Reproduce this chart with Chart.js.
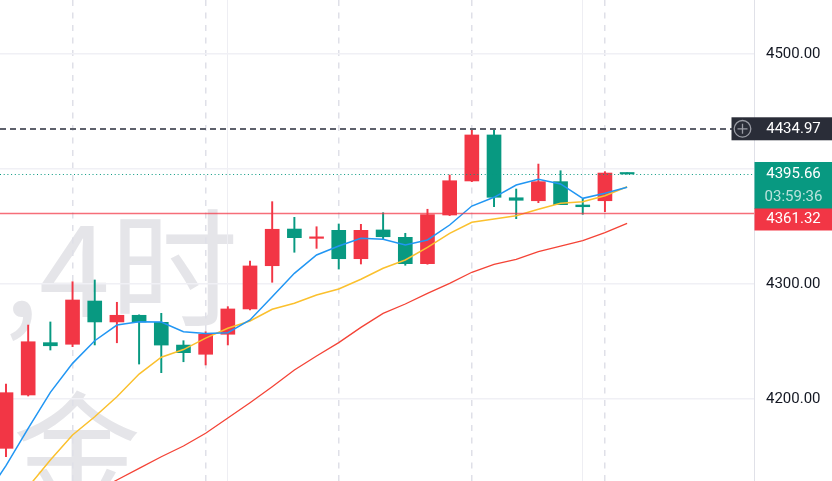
<!DOCTYPE html>
<html><head><meta charset="utf-8">
<script src="https://cdn.jsdelivr.net/npm/chart.js@4.4.1/dist/chart.umd.min.js"></script>
<style>html,body{margin:0;padding:0;background:#fff;overflow:hidden}#wrap{position:relative;width:832px;height:481px}</style>
</head><body><div id="wrap"><canvas id="c"></canvas></div>
<script>
// ---- data ----
const barIndex = [0,1,2,3,4,5,6,7,8,9,10,11,12,13,14,15,16,17,18,19,20,21,22,23,24,25,26,27,28];
const openP  = [4157.1,4203.5,4249.0,4247.6,4285.2,4267.0,4272.8,4266.7,4246.9,4238.9,4256.3,4278.3,4315.9,4347.8,4339.7,4346.7,4322.0,4347.0,4340.6,4317.7,4360.0,4389.6,4429.6,4375.0,4372.4,4389.0,4368.7,4372.4,4396.5];
const highP  = [4213.0,4264.3,4267.0,4302.0,4303.5,4284.1,4273.2,4274.5,4250.7,4258.5,4280.3,4320.0,4371.6,4358.0,4349.8,4352.2,4351.9,4362.0,4344.1,4365.0,4394.8,4433.9,4434.97,4382.6,4404.3,4398.5,4373.7,4397.7,4396.7];
const lowP   = [4149.8,4202.6,4242.6,4245.5,4247.0,4248.9,4230.4,4222.9,4232.4,4229.6,4247.0,4277.4,4301.5,4327.6,4331.0,4313.0,4317.4,4338.9,4316.3,4317.2,4359.5,4389.0,4367.2,4356.8,4370.7,4369.0,4360.6,4362.9,4395.66];
const closeP = [4205.5,4249.8,4246.3,4286.1,4267.0,4272.8,4267.0,4246.9,4240.3,4256.3,4278.3,4315.7,4347.6,4340.3,4340.6,4322.0,4346.7,4341.1,4317.7,4360.3,4389.8,4429.6,4375.4,4372.8,4389.0,4369.0,4367.2,4396.5,4395.66];
const maIndex = [-1,0,1,2,3,4,5,6,7,8,9,10,11,12,13,14,15,16,17,18,19,20,21,22,23,24,25,26,27,28];
const maFast = [4113.0,4142.0,4174.5,4205.8,4231.0,4250.7,4264.3,4267.2,4267.0,4258.5,4257.0,4257.7,4268.7,4289.0,4309.3,4325.2,4333.0,4339.7,4338.9,4333.9,4338.3,4351.3,4367.8,4375.4,4386.1,4391.0,4387.0,4374.5,4378.9,4384.1];
const maMid  = [null,4099.1,4123.5,4147.0,4168.7,4184.6,4202.0,4221.7,4236.3,4243.0,4253.0,4261.5,4267.8,4278.0,4283.2,4290.4,4295.7,4304.1,4313.7,4320.9,4331.9,4344.1,4353.7,4356.5,4359.4,4365.0,4370.2,4371.6,4376.8,4384.6];
const maSlow = [null,null,null,null,null,4119.1,4129.6,4139.7,4149.8,4159.1,4170.2,4183.5,4196.8,4210.7,4225.2,4237.4,4249.0,4262.3,4274.5,4282.6,4291.9,4300.6,4310.2,4317.1,4321.5,4328.1,4333.0,4337.7,4344.6,4352.8];
const yTicks = [4200,4300,4400,4500];
const highMark = 4434.97;
const lastPrice = 4395.66;
const alertPrice = 4361.32;
const countdown = '03:59:36';
const sessionGridAt = [3,9,15,21,27];
const weekGridAt = [10,26];
const watermarkLine1 = 'XAUUSD,4时';
const watermarkLine2 = '黄金';

// ---- style ----
const UP = '#f23645', DOWN = '#089981';
const candleColors = barIndex.map((_, i) => closeP[i] >= openP[i] ? UP : DOWN);
const X_MIN = -0.2705, X_MAX = 33.72, Y_MIN = 4128.70, Y_MAX = 4546.96;
const FONT = 'Roboto, "Noto Sans", sans-serif';

const overlay = {
  id: 'overlay',
  beforeDraw(chart) {
    const {ctx, chartArea: a} = chart;
    ctx.save();
    ctx.beginPath(); ctx.rect(a.left, a.top, a.right - a.left, a.bottom - a.top); ctx.clip();
    ctx.fillStyle = '#e5e5e9';
    ctx.font = '128px "Noto Sans CJK SC"';
    ctx.textAlign = 'right'; ctx.textBaseline = 'alphabetic';
    ctx.fillText(watermarkLine1, 238, 317);
    ctx.fillText(watermarkLine2, 141, 500);
    ctx.restore();
  },
  afterDatasetsDraw(chart) {
    const {ctx, chartArea: a, scales: {y}} = chart;
    ctx.save();
    ctx.beginPath(); ctx.rect(a.left, a.top, a.right - a.left, a.bottom - a.top); ctx.clip();
    let py = Math.round(y.getPixelForValue(alertPrice)) + 0.5;
    ctx.strokeStyle = 'rgba(242,54,69,0.72)'; ctx.lineWidth = 1.7; ctx.setLineDash([]);
    ctx.beginPath(); ctx.moveTo(a.left, py); ctx.lineTo(a.right, py); ctx.stroke();
    py = Math.round(y.getPixelForValue(lastPrice)) + 0.5;
    ctx.strokeStyle = DOWN; ctx.lineWidth = 1; ctx.setLineDash([1, 2.7]);
    ctx.beginPath(); ctx.moveTo(a.left, py); ctx.lineTo(a.right, py); ctx.stroke();
    py = Math.round(y.getPixelForValue(highMark));
    ctx.strokeStyle = '#5d606b'; ctx.lineWidth = 2; ctx.setLineDash([6, 4]);
    ctx.beginPath(); ctx.moveTo(a.left, py); ctx.lineTo(a.right - 20, py); ctx.stroke();
    ctx.restore();
  },
  afterDraw(chart) {
    const {ctx, chartArea: a, scales: {y}} = chart;
    const W = chart.width;
    ctx.save();
    ctx.font = '15px ' + FONT;
    ctx.textAlign = 'center'; ctx.textBaseline = 'middle';
    const cx = (a.right + W) / 2 + 0.5;
    let py = y.getPixelForValue(highMark);
    ctx.fillStyle = '#2a2d38';
    ctx.fillRect(a.right - 22.5, py - 11.5, W - a.right + 22.5, 23);
    ctx.strokeStyle = '#9a9ca5'; ctx.lineWidth = 1.3;
    const ix = a.right - 11.5;
    ctx.beginPath(); ctx.arc(ix, py, 8.3, 0, Math.PI * 2); ctx.stroke();
    ctx.beginPath(); ctx.moveTo(ix - 5, py); ctx.lineTo(ix + 5, py); ctx.moveTo(ix, py - 5); ctx.lineTo(ix, py + 5); ctx.stroke();
    ctx.fillStyle = '#ffffff';
    ctx.fillText(highMark.toFixed(2), cx, py + 0.5);
    py = y.getPixelForValue(lastPrice);
    ctx.fillStyle = DOWN;
    ctx.fillRect(a.right + 0.5, py - 12, W - a.right, 47);
    ctx.fillStyle = '#ffffff';
    ctx.fillText(lastPrice.toFixed(2), cx, py);
    ctx.fillStyle = 'rgba(255,255,255,0.72)';
    ctx.fillText(countdown, cx, py + 23.5);
    const ay = y.getPixelForValue(alertPrice);
    ctx.fillStyle = UP;
    ctx.fillRect(a.right + 0.5, ay - 5, W - a.right, 22);
    ctx.fillStyle = '#ffffff';
    ctx.fillText(alertPrice.toFixed(2), cx, ay + 6);
    ctx.restore();
  }
};

const xBase = {
  type: 'linear', min: X_MIN, max: X_MAX, offset: false,
  ticks: {display: false},
  afterFit(s) { s.height = 0; s.paddingLeft = 0; s.paddingRight = 0; }
};

new Chart(document.getElementById('c'), {
  type: 'bar',
  data: {
    datasets: [
      {type: 'line', label: 'MA fast', data: maIndex.map((x, i) => ({x, y: maFast[i]})), borderColor: '#2196f3', borderWidth: 1.5, pointRadius: 0, tension: 0, order: 0},
      {type: 'line', label: 'MA mid', data: maIndex.map((x, i) => ({x, y: maMid[i]})), borderColor: '#fbc02d', borderWidth: 1.5, pointRadius: 0, tension: 0, order: 0},
      {type: 'line', label: 'MA slow', data: maIndex.map((x, i) => ({x, y: maSlow[i]})), borderColor: '#f44336', borderWidth: 1.3, pointRadius: 0, tension: 0, order: 0},
      {label: 'wick', data: barIndex.map((x, i) => ({x, y: [lowP[i], highP[i]]})), backgroundColor: candleColors, barThickness: 1.3, grouped: false, order: 2},
      {label: 'body', data: barIndex.map((x, i) => ({x, y: [openP[i], closeP[i]]})), backgroundColor: candleColors, barThickness: 14, minBarLength: 1.5, grouped: false, order: 1}
    ]
  },
  options: {
    responsive: true, maintainAspectRatio: false, animation: false,
    layout: {padding: 0},
    plugins: {legend: {display: false}, tooltip: {enabled: false}},
    scales: {
      x: Object.assign({}, xBase, {
        grid: {color: '#dfe0e8', lineWidth: 1.5, drawTicks: false, offset: false},
        border: {display: false, dash: [6, 6.5]},
        afterBuildTicks(s) { s.ticks = sessionGridAt.map(v => ({value: v})); }
      }),
      x2: Object.assign({}, xBase, {
        position: 'bottom',
        grid: {color: '#eeeef3', lineWidth: 1, drawTicks: false, offset: false},
        border: {display: false},
        afterBuildTicks(s) { s.ticks = weekGridAt.map(v => ({value: v})); }
      }),
      y: {
        type: 'linear', position: 'right', min: Y_MIN, max: Y_MAX,
        grid: {color: '#f0f0f5', lineWidth: 1.5, drawTicks: false},
        border: {display: true, color: '#e0e1e8', width: 1},
        ticks: {includeBounds: false, padding: 12, color: '#131722', font: {size: 15, family: FONT},
          callback: v => Number(v).toFixed(2)},
        afterBuildTicks(s) { s.ticks = yTicks.map(v => ({value: v})); },
        afterFit(s) { s.width = 78; s.paddingTop = 0; s.paddingBottom = 0; }
      }
    }
  },
  plugins: [overlay]
});
</script>
</body></html>
